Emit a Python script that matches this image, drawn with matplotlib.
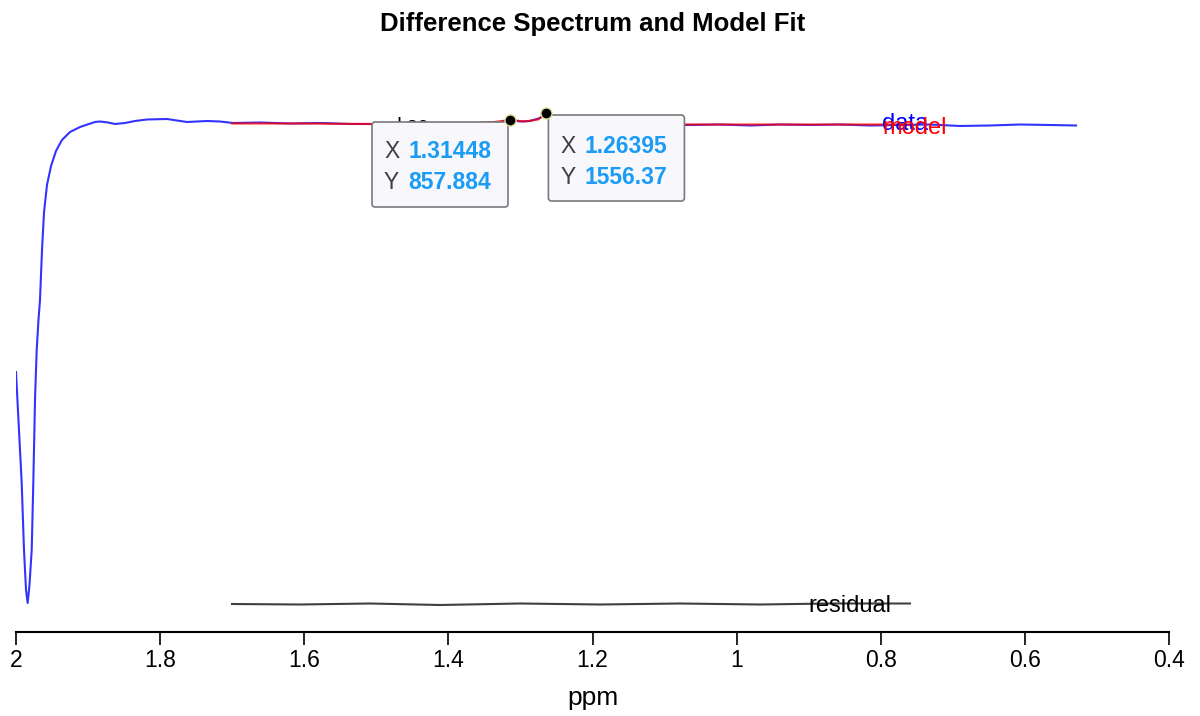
import matplotlib
matplotlib.use("Agg")
import matplotlib.pyplot as plt
from matplotlib.patches import FancyBboxPatch
from matplotlib.transforms import IdentityTransform

plt.rcParams['font.family'] = ['Liberation Sans', 'DejaVu Sans']

# difference spectrum (ppm, amplitude)
data_ppm = [2.000, 1.9921, 1.9889, 1.9861, 1.9838, 1.9813, 1.9782, 1.9760, 1.9736,
            1.9713, 1.9688, 1.9667, 1.9639, 1.9611, 1.9570, 1.9514, 1.9445, 1.9362,
            1.9251, 1.9112, 1.8904, 1.8834, 1.8723, 1.8626, 1.8487, 1.8349, 1.8182,
            1.7905, 1.7627, 1.7349, 1.7169, 1.6989, 1.6614, 1.6198, 1.5781, 1.5365,
            1.5060, 1.4671, 1.4116, 1.3561, 1.3283, 1.31448, 1.3006, 1.2867, 1.2728,
            1.26395, 1.2520, 1.2381, 1.2173, 1.1757, 1.1202, 1.0647, 1.0230, 0.9814,
            0.9398, 0.8981, 0.8565, 0.8149, 0.7733, 0.7316, 0.6900, 0.6484, 0.6067,
            0.5651, 0.5290]
data_amp = [-24342, -35442, -42142, -46142, -47442, -45642, -42142, -35442, -27042,
            -22142, -19142, -17142, -12142, -8342, -5642, -3742, -2242, -1142,
            -342, 158, 658, 708, 608, 458, 558, 758, 908,
            958, 658, 758, 708, 558, 608, 508, 558, 458,
            458, 508, 558, 558, 658, 857.884, 708, 758, 1058,
            1556.37, 1258, 758, 508, 458, 408, 358, 408, 308,
            408, 358, 408, 308, 358, 408, 258, 308, 408,
            358, 308]

# fitted model
model_ppm = [1.7002, 1.6059, 1.5060, 1.3977, 1.3422, 1.31448, 1.2937, 1.2756,
             1.26395, 1.2506, 1.2340, 1.2104, 1.0508, 0.9120, 0.7594]
model_amp = [508, 508, 458, 508, 608, 857.884, 708, 908,
             1556.37, 1158, 708, 458, 408, 408, 408]

# residual, shifted down
res_ppm = [1.7002, 1.6059, 1.5087, 1.4116, 1.3006, 1.1896, 1.0786, 0.9675, 0.8704, 0.7594]
res_amp = [-47542, -47592, -47492, -47642, -47492, -47592, -47492, -47592, -47492, -47492]

tips = [(1.31448, 857.884), (1.26395, 1556.37)]

fig = plt.figure(figsize=(12, 7.16), dpi=100)
ax = fig.add_axes([16 / 1200, 1 - 632 / 716, 1153 / 1200, 572 / 716])

ax.plot(data_ppm, data_amp, color='#0000ff', lw=1.5, alpha=0.8)
ax.plot(model_ppm, model_amp, color='#ff0000', lw=1.5, alpha=0.8)
ax.plot(res_ppm, res_amp, color='k', lw=1.5, alpha=0.75)

ax.text(0.7982, 458, 'data', color='#0000ff', fontsize=17, va='center', ha='left')
ax.text(0.7982, 58, 'model', color='#ff0000', fontsize=17, va='center', ha='left')
ax.text(0.9009, -47742, 'residual', color='k', fontsize=17, va='center', ha='left')
ax.text(1.4727, -192, 'Lac', color='k', fontsize=14, va='baseline', ha='left', zorder=1)

ax.set_xlim(2, 0.4)
ax.set_ylim(-50342, 6857.884)
ax.set_xticks([2, 1.8, 1.6, 1.4, 1.2, 1, 0.8, 0.6, 0.4])
ax.set_xticklabels(['2', '1.8', '1.6', '1.4', '1.2', '1', '0.8', '0.6', '0.4'])
ax.tick_params(axis='x', direction='out', length=9, width=1.2, labelsize=16.5, pad=3)
ax.set_yticks([])
for s in ['left', 'right', 'top']:
    ax.spines[s].set_visible(False)
ax.spines['bottom'].set_linewidth(1.5)
ax.set_xlabel('ppm', fontsize=19, labelpad=10)
ax.set_title('Difference Spectrum and Model Fit', fontsize=18.5, fontweight='bold', pad=21)


def datatip(x, y, box, xoff, valoff, rows):
    # box = (left, right, bottom, top) in pixels relative to the marker
    mx, my = ax.transData.transform((x, y))
    rect = FancyBboxPatch((mx + box[0], my + box[2]), box[1] - box[0], box[3] - box[2],
                          boxstyle='round,pad=0,rounding_size=3',
                          transform=IdentityTransform(), clip_on=False,
                          facecolor='#f8f8fc', edgecolor='#7a7a7a', lw=1.2, zorder=6)
    ax.add_patch(rect)
    for (lab, val, dy) in rows:
        ax.text(mx + xoff, my + dy, lab, transform=IdentityTransform(), fontsize=16.5,
                color='#404040', va='center', ha='left', zorder=8)
        ax.text(mx + valoff, my + dy, val, transform=IdentityTransform(), fontsize=16.5,
                color='#1a9cf4', fontweight='bold', va='center', ha='left', zorder=8)
    ax.plot([x], [y], 'o', ms=8, mfc='k', mec='#e0e0a0', mew=1, zorder=9)


datatip(tips[0][0], tips[0][1], (-138, -2, -87, -2), -126, -102,
        [('X', '1.31448', -31), ('Y', '857.884', -62)])
datatip(tips[1][0], tips[1][1], (2, 138, -88, -2), 14, 38,
        [('X', '1.26395', -33), ('Y', '1556.37', -64)])

fig.savefig('out.png', dpi=100)
